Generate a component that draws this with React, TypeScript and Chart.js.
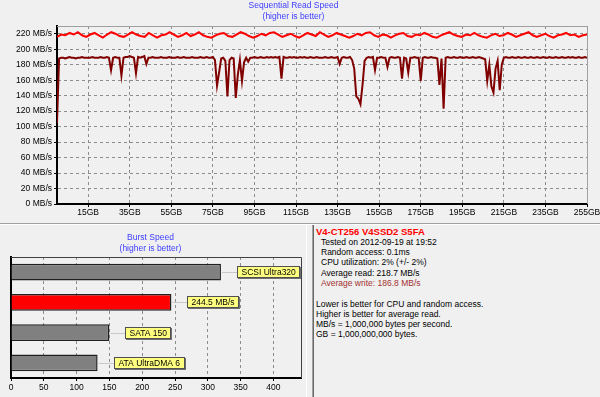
import React, { useEffect, useRef } from 'react';
import { Chart, registerables } from 'chart.js';
Chart.register(...registerables);

const FONT = '"Liberation Sans", Arial, sans-serif';

// Sequential read (red) — MB/s, evenly spread over 0..255 GB
const readSpeed = [
  216, 219, 218, 221, 219, 222, 218, 216, 219, 221, 218, 215, 219, 222, 220, 217,
  216, 219, 222, 219, 217, 216, 221, 218, 215, 218, 219, 222, 219, 216, 218, 221,
  217, 219, 222, 218, 216, 215, 218, 220, 221, 217, 216, 219, 222, 220, 217, 215,
  217, 220, 218, 221, 222, 219, 216, 218, 220, 217, 215, 218, 221, 219, 217, 222,
  219, 216, 218, 221, 219, 217, 215, 217, 220, 218, 221, 222, 218, 216, 219, 218,
  215, 218, 220, 221, 217, 216, 219, 218, 221, 219, 216, 215, 218, 220, 222, 219,
  217, 216, 219, 218, 221, 218, 216, 215, 218, 220, 217, 218, 221, 219, 216, 218,
  220, 222, 218, 216, 218, 220, 217, 215, 218, 219, 221, 218, 219, 216, 218, 219,
];

// Sequential write (dark red) — MB/s, one value per GB (0..255)
const writeSpeed = [
  105, 188, 189, 189, 188, 189, 190, 189, 189, 188, 189, 189, 190, 189, 189, 189,
  189, 190, 189, 189, 189, 190, 189, 189, 190, 189, 173, 189, 190, 189, 189, 166,
  189, 190, 190, 191, 190, 189, 169, 190, 189, 190, 191, 181, 189, 189, 190, 189,
  189, 189, 190, 189, 189, 189, 190, 189, 189, 189, 190, 189, 189, 190, 189, 189,
  189, 190, 189, 189, 189, 190, 189, 189, 190, 189, 189, 190, 186, 153, 170, 188,
  189, 185, 139, 186, 189, 188, 137, 167, 186, 159, 183, 189, 184, 189, 189, 190,
  189, 189, 190, 189, 189, 190, 189, 190, 189, 190, 189, 190, 162, 190, 189, 189,
  190, 189, 190, 189, 189, 190, 189, 190, 189, 189, 190, 189, 189, 190, 189, 189,
  189, 190, 189, 189, 190, 189, 189, 190, 181, 189, 190, 189, 189, 190, 186, 175,
  139, 136, 129, 154, 185, 189, 190, 189, 190, 173, 189, 189, 190, 189, 189, 177,
  189, 190, 189, 189, 190, 189, 162, 189, 188, 170, 189, 189, 190, 189, 189, 159,
  189, 190, 189, 189, 190, 189, 189, 188, 154, 188, 123, 189, 190, 189, 189, 190,
  189, 189, 190, 189, 189, 190, 189, 189, 190, 189, 189, 190, 189, 188, 187, 159,
  180, 152, 144, 175, 185, 147, 180, 189, 190, 189, 189, 190, 189, 189, 190, 189,
  189, 190, 189, 189, 190, 189, 189, 190, 189, 189, 190, 189, 189, 190, 189, 189,
  190, 189, 189, 190, 189, 189, 190, 189, 190, 189, 189, 190, 189, 189, 190, 189,
];

const speedTicks = [0, 20, 40, 60, 80, 100, 120, 140, 160, 180, 200, 220];
const gbTicks = [15, 35, 55, 75, 95, 115, 135, 155, 175, 195, 215, 235, 255];

const burstLabels = ['SCSI Ultra320', '244.5 MB/s', 'SATA 150', 'ATA UltraDMA 6'];
const burstValues = [320, 244.5, 150, 132];
const burstColors = ['#808080', '#ff0000', '#808080', '#808080'];
const burstTicks = [0, 50, 100, 150, 200, 250, 300, 350, 400];

const infoTitle = 'V4-CT256 V4SSD2 S5FA';
const infoLines = [
  'Tested on 2012-09-19 at 19:52',
  'Random access: 0.1ms',
  'CPU utilization: 2% (+/- 2%)',
  'Average read: 218.7 MB/s',
  'Average write: 186.8 MB/s',
];
const noteLines = [
  'Lower is better for CPU and random access.',
  'Higher is better for average read.',
  'MB/s = 1,000,000 bytes per second.',
  'GB = 1,000,000,000 bytes.',
];

const topFrame = {
  id: 'topFrame',
  afterDraw(chart: any) {
    const { ctx, chartArea: a } = chart;
    ctx.save();
    ctx.strokeStyle = '#a0a0a0';
    ctx.lineWidth = 1;
    ctx.beginPath();
    ctx.moveTo(a.left, a.top + 0.5);
    ctx.lineTo(a.right + 0.5, a.top + 0.5);
    ctx.lineTo(a.right + 0.5, a.bottom);
    ctx.stroke();
    ctx.restore();
  },
};

const burstFrame = {
  id: 'burstFrame',
  afterDraw(chart: any) {
    const { ctx, chartArea: a } = chart;
    ctx.save();
    ctx.strokeStyle = '#404040';
    ctx.lineWidth = 1;
    ctx.beginPath();
    ctx.moveTo(a.left, a.top + 0.5);
    ctx.lineTo(a.right + 0.5, a.top + 0.5);
    ctx.lineTo(a.right + 0.5, a.bottom);
    ctx.stroke();
    ctx.restore();
  },
};

const burstLabelPlugin = {
  id: 'burstLabels',
  afterDatasetsDraw(chart: any) {
    const { ctx } = chart;
    const meta = chart.getDatasetMeta(0);
    ctx.save();
    ctx.font = `8.5px ${FONT}`;
    ctx.textBaseline = 'middle';
    ctx.textAlign = 'left';
    meta.data.forEach((bar: any, i: number) => {
      const text = chart.data.labels[i];
      const w = Math.round(ctx.measureText(text).width + 9);
      const h = 12;
      const bx = Math.round(bar.x + 16);
      const by = Math.round(bar.y - h / 2);
      const cy = Math.round(bar.y) + 0.5;
      ctx.strokeStyle = '#c8c8c8';
      ctx.lineWidth = 1;
      ctx.beginPath();
      ctx.moveTo(bar.x + 1, cy);
      ctx.lineTo(bx, cy);
      ctx.stroke();
      ctx.fillStyle = '#707070';
      ctx.fillRect(bx + 1, by + 1, w, h);
      ctx.fillStyle = '#ffff80';
      ctx.fillRect(bx, by, w, h);
      ctx.strokeStyle = '#505050';
      ctx.strokeRect(bx + 0.5, by + 0.5, w - 1, h - 1);
      ctx.fillStyle = '#000';
      ctx.fillText(text, bx + 4.5, by + h / 2 + 0.5);
    });
    ctx.restore();
  },
};

function SpeedChart() {
  const ref = useRef<HTMLCanvasElement>(null);
  useEffect(() => {
    const readData = readSpeed.map((v, i) => ({ x: (i * 255) / (readSpeed.length - 1), y: v }));
    const writeData = writeSpeed.map((v, i) => ({ x: i, y: v }));
    const chart = new Chart(ref.current!, {
      type: 'line',
      data: {
        datasets: [
          { label: 'Read', data: readData, borderColor: '#ff0000', borderWidth: 2, pointRadius: 0, tension: 0 },
          { label: 'Write', data: writeData, borderColor: '#800000', borderWidth: 2, pointRadius: 0, tension: 0 },
        ],
      },
      options: {
        animation: false,
        responsive: false,
        devicePixelRatio: 1,
        layout: { padding: { left: 0, right: 13, top: 0, bottom: 0 } },
        plugins: {
          legend: { display: false },
          tooltip: { enabled: false },
          title: {
            display: true,
            text: ['Sequential Read Speed', '(higher is better)'],
            color: '#3c3cff',
            font: { family: FONT, size: 8.5, weight: 'normal', lineHeight: '11px' } as any,
            padding: { top: 0, bottom: 4 },
          },
        },
        scales: {
          x: {
            type: 'linear',
            min: 0,
            max: 255,
            afterBuildTicks: (axis: any) => {
              axis.ticks = gbTicks.map((v) => ({ value: v }));
            },
            afterFit: (axis: any) => {
              axis.height = 19;
              axis.paddingLeft = 0;
              axis.paddingRight = 0;
            },
            ticks: {
              callback: (v: any) => `${v}GB`,
              color: '#000',
              font: { family: FONT, size: 8.5 },
              padding: 1,
              maxRotation: 0,
              autoSkip: false,
            },
            grid: { color: '#8c8c8c', tickColor: '#000', tickLength: 3, lineWidth: 1 },
            border: { display: true, color: '#000', width: 2, dash: [3, 3] },
          },
          y: {
            min: 0,
            max: 230,
            afterBuildTicks: (axis: any) => {
              axis.ticks = speedTicks.map((v) => ({ value: v }));
            },
            afterFit: (axis: any) => {
              axis.width = 57;
            },
            ticks: {
              callback: (v: any) => `${v} MB/s`,
              color: '#000',
              font: { family: FONT, size: 8.5 },
              padding: 2,
              autoSkip: false,
            },
            grid: { color: '#8c8c8c', tickColor: '#000', tickLength: 3, lineWidth: 1 },
            border: { display: true, color: '#000', width: 2, dash: [3, 3] },
          },
        },
      },
      plugins: [topFrame],
    });
    return () => chart.destroy();
  }, []);
  return <canvas ref={ref} width={600} height={223} style={{ position: 'absolute', left: 0, top: 0, width: 600, height: 223 }} />;
}

function BurstChart() {
  const ref = useRef<HTMLCanvasElement>(null);
  useEffect(() => {
    const chart = new Chart(ref.current!, {
      type: 'bar',
      data: {
        labels: burstLabels,
        datasets: [
          {
            label: 'Burst',
            data: burstValues,
            backgroundColor: burstColors,
            borderColor: '#202020',
            borderWidth: 1.5,
            barPercentage: 0.56,
            categoryPercentage: 1,
          },
        ],
      },
      options: {
        indexAxis: 'y',
        animation: false,
        responsive: false,
        devicePixelRatio: 1,
        layout: { padding: { left: 0, right: 5, top: 0, bottom: 0 } },
        plugins: {
          legend: { display: false },
          tooltip: { enabled: false },
          title: {
            display: true,
            text: ['Burst Speed', '(higher is better)'],
            color: '#3c3cff',
            font: { family: FONT, size: 8.5, weight: 'normal', lineHeight: '11px' } as any,
            padding: { top: 7, bottom: 3 },
          },
        },
        scales: {
          x: {
            type: 'linear',
            min: 0,
            max: 442,
            afterBuildTicks: (axis: any) => {
              axis.ticks = burstTicks.map((v) => ({ value: v }));
            },
            afterFit: (axis: any) => {
              axis.height = 19;
              axis.paddingLeft = 0;
              axis.paddingRight = 0;
            },
            ticks: {
              color: '#000',
              font: { family: FONT, size: 8.5 },
              padding: 2,
              maxRotation: 0,
              autoSkip: false,
            },
            grid: {
              color: (c: any) => (c.tick && c.tick.value === 0 ? 'rgba(0,0,0,0)' : '#8c8c8c'),
              tickColor: '#000',
              tickLength: 3,
            },
            border: { display: true, color: '#000', width: 2, dash: [3, 3] },
          },
          y: {
            afterFit: (axis: any) => {
              axis.width = 11;
            },
            ticks: { display: false },
            grid: { display: false },
            border: { display: true, color: '#000', width: 2 },
          },
        },
      },
      plugins: [burstFrame, burstLabelPlugin],
    });
    return () => chart.destroy();
  }, []);
  return <canvas ref={ref} width={306} height={172} style={{ position: 'absolute', left: 0, top: 225, width: 306, height: 172 }} />;
}

export default function App() {
  const lineStyle = (top: number, left: number, color = '#000'): React.CSSProperties => ({
    position: 'absolute',
    top,
    left,
    fontFamily: FONT,
    fontSize: 8.5,
    lineHeight: '10px',
    color,
    whiteSpace: 'nowrap',
  });
  return (
    <div style={{ position: 'fixed', left: 0, top: 0, width: 600, height: 397, background: '#f0f0f0', overflow: 'hidden' }}>
      <SpeedChart />
      <div style={{ position: 'absolute', left: 0, top: 223, width: 600, height: 1, background: '#a0a0a0' }} />
      <div style={{ position: 'absolute', left: 0, top: 224, width: 600, height: 1, background: '#ffffff' }} />
      <BurstChart />
      <div style={{ position: 'absolute', left: 306, top: 225, width: 1, height: 172, background: '#ffffff' }} />
      <div style={{ position: 'absolute', left: 312, top: 225, width: 1, height: 172, background: '#a0a0a0' }} />
      <div style={{ position: 'absolute', left: 313, top: 225, width: 1, height: 172, background: '#696969' }} />
      <div
        style={{
          position: 'absolute',
          top: 226,
          left: 316,
          fontFamily: FONT,
          fontSize: 9.5,
          fontWeight: 'bold',
          lineHeight: '12px',
          color: '#ff0000',
          whiteSpace: 'nowrap',
        }}
      >
        {infoTitle}
      </div>
      {infoLines.map((t, i) => (
        <div key={t} style={lineStyle(237 + i * 10.2, 321, i === 4 ? '#a33030' : '#000')}>
          {t}
        </div>
      ))}
      {noteLines.map((t, i) => (
        <div key={t} style={lineStyle(299 + i * 10, 316)}>
          {t}
        </div>
      ))}
    </div>
  );
}
